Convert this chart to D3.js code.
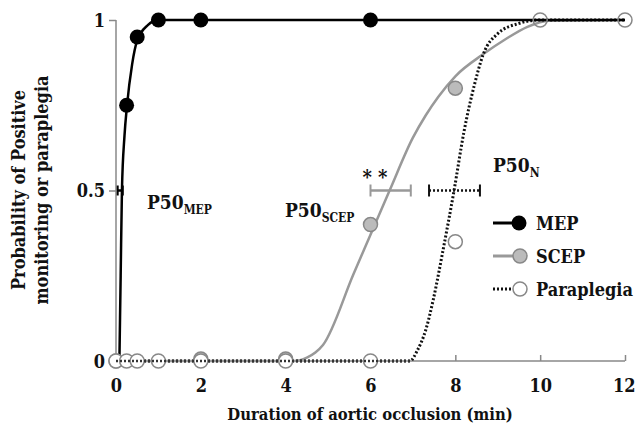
<!DOCTYPE html>
<html>
<head>
	<style>
	body { margin: 0; background: #fff; }
	svg text { font-family: "DejaVu Serif Condensed", "DejaVu Serif", serif !important; font-stretch: condensed; font-weight: bold; fill: #111; }
	</style>
	<script src="https://cdnjs.cloudflare.com/ajax/libs/d3/7.8.5/d3.min.js"></script>
</head>
<body>
<script>
	// observed points
	var mepX = [0.25, 0.5, 1, 2, 6];
	var mepY = [0.75, 0.95, 1, 1, 1];
	var scepX = [0, 2, 4, 6, 8];
	var scepY = [0, 0.01, 0.01, 0.4, 0.8];
	var paraX = [0, 0.25, 0.5, 1, 2, 4, 6, 8, 10, 12];
	var paraY = [0, 0, 0, 0, 0, 0, 0, 0.35, 1, 1];

	// fitted curves
	var mepFitX = [0.08, 0.11, 0.14, 0.2, 0.26, 0.38, 0.5, 0.75, 1, 12];
	var mepFitY = [0, 0.25, 0.5, 0.66, 0.75, 0.87, 0.94, 0.985, 1, 1];
	var scepFitX = [0, 4.2, 4.5, 4.7, 4.88, 5.6, 6.45, 7.0, 7.3, 7.6, 8, 8.66, 9.2, 9.7, 10.2, 12];
	var scepFitY = [0, 0, 0.01, 0.025, 0.047, 0.255, 0.5, 0.655, 0.72, 0.775, 0.835, 0.9, 0.945, 0.98, 0.998, 1];
	var paraFitX = [0, 6.93, 7.1, 7.3, 7.48, 7.71, 7.97, 8.2, 8.45, 8.66, 9, 9.5, 10, 12];
	var paraFitY = [0, 0, 0.03, 0.09, 0.18, 0.325, 0.5, 0.67, 0.81, 0.9, 0.96, 0.99, 1, 1];

	// P50 with range (x from, x to), at y = 0.5
	var p50Names = ["MEP", "SCEP", "N"];
	var p50Lo = [0.04, 6.0, 7.38];
	var p50Hi = [0.16, 6.95, 8.58];

	var xTicks = [0, 2, 4, 6, 8, 10, 12];
	var yTicks = [0, 0.5, 1];
	var legendNames = ["MEP", "SCEP", "Paraplegia"];

	var width = 636, height = 432;
	var x = d3.scaleLinear().domain([0, 12]).range([116, 625]);
	var y = d3.scaleLinear().domain([0, 1]).range([361, 20]);

	var svg = d3.select("body").append("svg")
		.attr("width", width)
		.attr("height", height);

	var axisColor = "#888";

	// axes
	var yAxis = svg.append("g")
		.attr("transform", "translate(" + x(0) + ",0)")
		.call(d3.axisLeft(y).tickValues(yTicks).tickSize(7).tickFormat(d3.format("")));
	yAxis.attr("font-family", null);
	yAxis.select(".domain").attr("stroke", axisColor).attr("stroke-width", 1.5).attr("d", "M0," + y(0) + "V" + y(1));
	yAxis.selectAll(".tick line").attr("stroke", axisColor).attr("stroke-width", 1.5);
	yAxis.selectAll(".tick text").attr("x", -11).attr("dy", "0.35em")
		.style("font-size", "18px").attr("fill", "#111");

	var xAxis = svg.append("g")
		.attr("transform", "translate(0," + y(0) + ")")
		.call(d3.axisBottom(x).tickValues(xTicks).tickSize(-6).tickFormat(d3.format("d")));
	xAxis.attr("font-family", null);
	xAxis.select(".domain").attr("stroke", axisColor).attr("stroke-width", 1.5).attr("d", "M" + x(0) + ",0H" + x(12));
	xAxis.selectAll(".tick line").attr("stroke", axisColor).attr("stroke-width", 1.5)
		.filter(function(d) { return d === 0; }).remove();
	xAxis.selectAll(".tick text").attr("y", 31).attr("dy", 0)
		.style("font-size", "18px").attr("fill", "#111")
		.filter(function(d) { return d === 12; }).attr("text-anchor", "end").attr("x", 10);

	// axis titles
	svg.append("text")
		.attr("x", 370).attr("y", 420)
		.attr("text-anchor", "middle")
		.style("font-size", "16.5px")
		.text("Duration of aortic occlusion (min)");
	var yt = svg.append("text")
		.attr("transform", "translate(25,190) rotate(-90)")
		.attr("text-anchor", "middle")
		.style("font-size", "18px");
	yt.append("tspan").attr("x", 0).attr("y", 0).text("Probability of Positive");
	yt.append("tspan").attr("x", 0).attr("y", 23).text("monitoring or paraplegia");

	function pts(xs, ys) {
		return xs.map(function(v, i) { return [v, ys[i]]; });
	}
	var line = d3.line()
		.x(function(d) { return x(d[0]); })
		.y(function(d) { return y(d[1]); })
		.curve(d3.curveMonotoneX);

	// fitted lines
	svg.append("path").datum(pts(scepFitX, scepFitY))
		.attr("d", line).attr("fill", "none")
		.attr("stroke", "#999").attr("stroke-width", 2.5);
	svg.append("path").datum(pts(paraFitX, paraFitY))
		.attr("d", line).attr("fill", "none")
		.attr("stroke", "#111").attr("stroke-width", 3).attr("stroke-dasharray", "2,2");
	svg.append("path").datum(pts(mepFitX, mepFitY))
		.attr("d", line).attr("fill", "none")
		.attr("stroke", "#000").attr("stroke-width", 2.5);

	// error bars for P50
	var barStyle = [
		{ color: "#000", dash: null, cap: 5 },
		{ color: "#999", dash: null, cap: 6 },
		{ color: "#111", dash: "2,2", cap: 6 }
	];
	p50Names.forEach(function(n, i) {
		var g = svg.append("g");
		var s = barStyle[i];
		g.append("line")
			.attr("x1", x(p50Lo[i])).attr("x2", x(p50Hi[i]))
			.attr("y1", y(0.5)).attr("y2", y(0.5))
			.attr("stroke", s.color).attr("stroke-width", 2.5)
			.attr("stroke-dasharray", s.dash);
		[p50Lo[i], p50Hi[i]].forEach(function(v) {
			g.append("line")
				.attr("x1", x(v)).attr("x2", x(v))
				.attr("y1", y(0.5) - s.cap).attr("y2", y(0.5) + s.cap)
				.attr("stroke", s.color).attr("stroke-width", 2);
		});
	});

	// markers
	svg.selectAll(".scep").data(pts(scepX, scepY)).enter().append("circle")
		.attr("cx", function(d) { return x(d[0]); })
		.attr("cy", function(d) { return y(d[1]) + (d[1] > 0 && d[1] < 0.05 ? 1.5 : 0); })
		.attr("r", 7).attr("fill", "#bbb").attr("stroke", "#888").attr("stroke-width", 1.5);
	svg.selectAll(".para").data(pts(paraX, paraY)).enter().append("circle")
		.attr("cx", function(d) { return x(d[0]); })
		.attr("cy", function(d) { return y(d[1]); })
		.attr("r", 7).attr("fill", function(d) { return d[1] === 0 || d[0] === 8 ? "#fff" : "none"; })
		.attr("stroke", "#888").attr("stroke-width", 1.5);
	// dotted line over the open circles at zero
	svg.append("path").datum(pts([0, 6.93], [0, 0]))
		.attr("d", line).attr("fill", "none")
		.attr("stroke", "#333").attr("stroke-width", 2.5).attr("stroke-dasharray", "2,2");
	svg.selectAll(".mep").data(pts(mepX, mepY)).enter().append("circle")
		.attr("cx", function(d) { return x(d[0]); })
		.attr("cy", function(d) { return y(d[1]); })
		.attr("r", 7.5).attr("fill", "#000");

	// P50 labels
	function p50Label(px, py, sub) {
		var t = svg.append("text").attr("x", px).attr("y", py).style("font-size", "19px");
		t.append("tspan").text("P50");
		t.append("tspan").attr("dy", 5).style("font-size", "12px").text(sub);
	}
	p50Label(147, 209, "MEP");
	p50Label(285, 217, "SCEP");
	p50Label(493, 172, "N");

	svg.append("text")
		.attr("x", 375).attr("y", 184)
		.attr("text-anchor", "middle")
		.style("font-size", "20px")
		.text("* *");

	// legend
	var legY = [223, 256, 289];
	legendNames.forEach(function(n, i) {
		var g = svg.append("g").attr("transform", "translate(0," + legY[i] + ")");
		if (i === 0) {
			g.append("line").attr("x1", 493).attr("x2", 518).attr("stroke", "#000").attr("stroke-width", 3);
			g.append("circle").attr("cx", 519).attr("r", 7.5).attr("fill", "#000");
		} else if (i === 1) {
			g.append("line").attr("x1", 493).attr("x2", 513).attr("stroke", "#999").attr("stroke-width", 3);
			g.append("circle").attr("cx", 520).attr("r", 7).attr("fill", "#bbb").attr("stroke", "#888").attr("stroke-width", 1.5);
		} else {
			g.append("line").attr("x1", 493).attr("x2", 513).attr("stroke", "#111").attr("stroke-width", 3).attr("stroke-dasharray", "2,2");
			g.append("circle").attr("cx", 520).attr("r", 7).attr("fill", "#fff").attr("stroke", "#888").attr("stroke-width", 1.5);
		}
		g.append("text").attr("x", 536).attr("y", 7).style("font-size", "18px").text(n);
	});
</script>
</body>
</html>
